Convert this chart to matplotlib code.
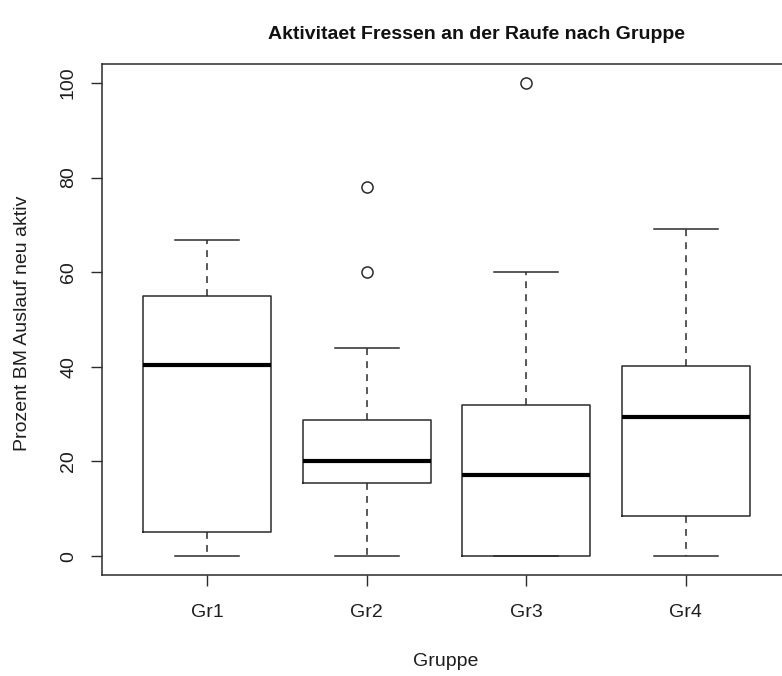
#!/usr/bin/env python3
"""
R-style boxplot: Aktivitaet Fressen an der Raufe nach Gruppe.
"""
import matplotlib
matplotlib.use('Agg')
import matplotlib.pyplot as plt

plt.rcParams['font.family'] = ['Liberation Sans', 'DejaVu Sans']

groups = ['Gr1', 'Gr2', 'Gr3', 'Gr4']
whislo = [0.0, 0.0, 0.0, 0.0]
q1 = [5.1, 15.5, 0.0, 8.5]
med = [40.4, 20.1, 17.2, 29.4]
q3 = [55.0, 28.7, 32.0, 40.1]
whishi = [66.7, 43.9, 60.0, 69.2]
fliers = [[], [60.0, 78.0], [100.0], []]
yticks = [0, 20, 40, 60, 80, 100]

LC = '#2b2b2b'
TXT = '#1e1e1e'

fig = plt.figure(figsize=(7.82, 6.76), dpi=100)
ax = fig.add_axes([102 / 782, 1 - 575 / 676, (791 - 102) / 782, (575 - 64) / 676])

stats = []
for i, g in enumerate(groups):
    stats.append(dict(label=g, whislo=whislo[i], q1=q1[i], med=med[i],
                      q3=q3[i], whishi=whishi[i], fliers=fliers[i]))

ax.bxp(stats, positions=range(1, len(groups) + 1), widths=0.8, capwidths=0.4,
       boxprops=dict(color=LC, linewidth=1.1),
       medianprops=dict(color='black', linewidth=3.0, solid_capstyle='butt'),
       whiskerprops=dict(color=LC, linewidth=1.1, linestyle=(0, (4.5, 4))),
       capprops=dict(color=LC, linewidth=1.1),
       flierprops=dict(marker='o', markerfacecolor='none', markeredgecolor=LC,
                       markersize=8, markeredgewidth=1.1))

ax.set_xlim(0.34, 4.66)
ax.set_ylim(-4, 104)
ax.set_yticks(yticks)
ax.set_yticklabels([str(v) for v in yticks], rotation=90, va='center')
ax.set_xticks(range(1, len(groups) + 1))
ax.set_xticklabels(groups)
ax.tick_params(axis='both', length=8, width=1.0, color=LC, labelsize=14,
               labelcolor=TXT)
ax.tick_params(axis='x', pad=13)
ax.tick_params(axis='y', pad=10)
for s in ax.spines.values():
    s.set_color(LC)
    s.set_linewidth(1.1)

fig.text(476 / 782, 1 - 39 / 676, 'Aktivitaet Fressen an der Raufe nach Gruppe',
         ha='center', va='baseline', fontsize=14, fontweight='bold', color='#111111')
fig.text(446 / 782, 1 - 662 / 676, 'Gruppe', ha='center', va='center',
         fontsize=14, color=TXT)
fig.text(23 / 782, 1 - 323 / 676, 'Prozent BM Auslauf neu aktiv', ha='center',
         va='center', rotation=90, fontsize=14, color=TXT)

fig.savefig('out.png', dpi=100)
